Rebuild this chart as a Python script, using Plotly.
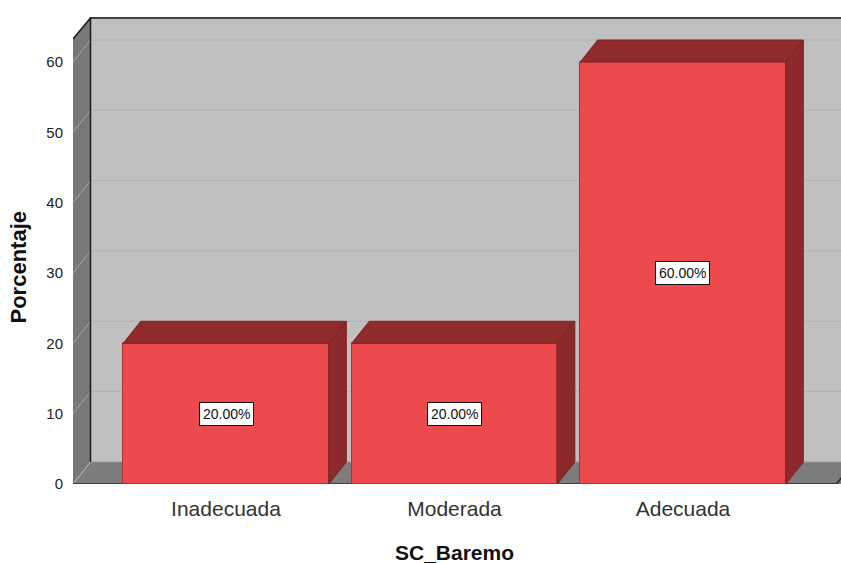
import plotly.graph_objects as go

# Data
categories = ["Inadecuada", "Moderada", "Adecuada"]
percentages = [20.0, 20.0, 60.0]
y_ticks = [0, 10, 20, 30, 40, 50, 60]

# 3D look: depth offset of the box (in data units) and axis extents
DX, DY = 0.0766, 3.13
BAR_W = 0.90
X_MIN, X_MAX = -0.6696, 2.6915
Y_TOP = 66.4
FRONT_TOP = Y_TOP - DY

FONT = "Liberation Sans, Arial, sans-serif"
FRONT_RED = "#ec4a4c"
DARK_RED = "#902b2c"
EDGE_RED = "#a83536"

fig = go.Figure()
shapes = []

# back wall
shapes.append(dict(type="rect", xref="x", yref="y", x0=X_MIN + DX, x1=X_MAX + 1,
                   y0=DY, y1=Y_TOP, fillcolor="#c0c0c0", line=dict(width=0), layer="below"))
# left wall
shapes.append(dict(type="path", xref="x", yref="y",
                   path=f"M {X_MIN},0 L {X_MIN},{FRONT_TOP} L {X_MIN+DX},{Y_TOP} L {X_MIN+DX},{DY} Z",
                   fillcolor="#787878", line=dict(width=0), layer="below"))
# floor
shapes.append(dict(type="path", xref="x", yref="y",
                   path=f"M {X_MIN},0 L {X_MIN+DX},{DY} L {X_MAX+1},{DY} L {X_MAX+1},0 Z",
                   fillcolor="#7c7c7c", line=dict(width=0), layer="below"))

# gridlines on back wall and left wall
for t in y_ticks[1:]:
    shapes.append(dict(type="line", xref="x", yref="y", x0=X_MIN + DX, x1=X_MAX + 1,
                       y0=t + DY, y1=t + DY, line=dict(color="#b2b2b2", width=1), layer="below"))
    shapes.append(dict(type="line", xref="x", yref="y", x0=X_MIN, x1=X_MIN + DX,
                       y0=t, y1=t + DY, line=dict(color="#a6a6a6", width=1), layer="below"))

# floor back edge
shapes.append(dict(type="line", xref="x", yref="y", x0=X_MIN + DX, x1=X_MAX + 1,
                   y0=DY, y1=DY, line=dict(color="#9a9a9a", width=1), layer="below"))
shapes.append(dict(type="line", xref="x", yref="y", x0=X_MIN, x1=X_MIN + DX,
                   y0=0, y1=DY, line=dict(color="#b8b8b8", width=1), layer="below"))
# floor front edge
shapes.append(dict(type="line", xref="x", yref="y", x0=X_MIN, x1=X_MAX - 0.02,
                   y0=0, y1=0, line=dict(color="#2a2a2a", width=1.5), layer="below"))
shapes.append(dict(type="line", xref="x", yref="y", x0=X_MAX - 0.02, x1=X_MAX - 0.02 + DX,
                   y0=0, y1=DY, line=dict(color="#2a2a2a", width=1.5), layer="below"))
# back-left vertical edge and top outline
shapes.append(dict(type="line", xref="x", yref="y", x0=X_MIN + DX, x1=X_MIN + DX,
                   y0=DY, y1=Y_TOP, line=dict(color="#1a1a1a", width=1.5), layer="below"))
shapes.append(dict(type="path", xref="x", yref="y",
                   path=f"M {X_MIN},{FRONT_TOP} L {X_MIN+DX},{Y_TOP-0.15} L {X_MAX+1},{Y_TOP-0.15}",
                   line=dict(color="#1a1a1a", width=1.5), layer="below"))

# front faces of the bars
fig.add_trace(go.Bar(
    x=list(range(len(categories))), y=percentages, width=BAR_W,
    marker=dict(color=FRONT_RED, line=dict(color=EDGE_RED, width=1)),
    hoverinfo="skip", showlegend=False,
))

# top and right side faces, built from the same values
for i, v in enumerate(percentages):
    x0, x1 = i - BAR_W / 2, i + BAR_W / 2
    fig.add_trace(go.Scatter(
        x=[x0, x0 + DX, x1 + DX, x1, x0], y=[v, v + DY, v + DY, v, v],
        fill="toself", fillcolor=DARK_RED, mode="lines",
        line=dict(color="#7a2223", width=1), hoverinfo="skip", showlegend=False,
    ))
    fig.add_trace(go.Scatter(
        x=[x1, x1, x1 + DX, x1 + DX, x1], y=[0, v, v + DY, DY, 0],
        fill="toself", fillcolor="#8c2a2b", mode="lines",
        line=dict(color="#7a2223", width=1), hoverinfo="skip", showlegend=False,
    ))

annotations = []
for i, v in enumerate(percentages):
    annotations.append(dict(
        x=i, y=v / 2, xref="x", yref="y", text=f"{v:.2f}%", showarrow=False,
        font=dict(family=FONT, size=14, color="#111111"),
        bgcolor="white", bordercolor="#111111", borderwidth=1, borderpad=3,
    ))

annotations.append(dict(
    x=1, y=-0.146, xref="x", yref="paper", text="<b>SC_Baremo</b>", showarrow=False,
    font=dict(family=FONT, size=21, color="#111111"), yanchor="middle",
))
annotations.append(dict(
    x=-0.071, y=30.85, xref="paper", yref="y", text="<b>Porcentaje</b>", showarrow=False,
    textangle=-90, font=dict(family=FONT, size=22, color="#111111"), xanchor="center",
))

fig.update_layout(
    width=841, height=563,
    margin=dict(l=73, r=0, t=17, b=79),
    paper_bgcolor="white", plot_bgcolor="white",
    shapes=shapes, annotations=annotations,
    bargap=0,
    xaxis=dict(
        range=[X_MIN, X_MAX], tickvals=list(range(len(categories))), ticktext=categories,
        showgrid=False, zeroline=False, showline=False,
        ticks="outside", ticklen=6, tickcolor="rgba(0,0,0,0)",
        tickfont=dict(family=FONT, size=21, color="#333333"),
    ),
    yaxis=dict(
        range=[0, Y_TOP], tickvals=y_ticks, ticktext=[str(t) for t in y_ticks],
        showgrid=False, zeroline=False, showline=False,
        ticks="outside", ticklen=6, tickcolor="rgba(0,0,0,0)",
        tickfont=dict(family=FONT, size=15, color="#222222"),
    ),
)

fig.write_html("out.html")
